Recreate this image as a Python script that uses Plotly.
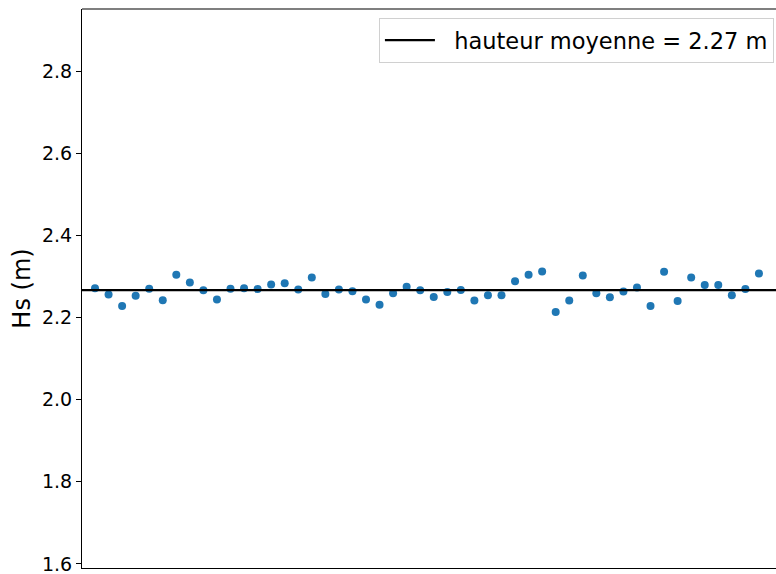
import numpy as np
import plotly.graph_objects as go

# Significant wave height per sample (m)
sample_idx = list(range(50))
hs_values = [
    2.271, 2.256, 2.228, 2.253, 2.270, 2.242, 2.304, 2.285, 2.266, 2.244,
    2.270, 2.271, 2.269, 2.280, 2.283, 2.268, 2.297, 2.257, 2.268, 2.264,
    2.244, 2.231, 2.259, 2.275, 2.266, 2.250, 2.262, 2.267, 2.241, 2.254,
    2.254, 2.288, 2.304, 2.312, 2.213, 2.241, 2.302, 2.259, 2.249, 2.263,
    2.273, 2.228, 2.311, 2.240, 2.297, 2.279, 2.279, 2.254, 2.269, 2.307,
]
y_ticks = [1.6, 1.8, 2.0, 2.2, 2.4, 2.6, 2.8]

mean_hs = float(np.mean(hs_values))
x_range = [-0.96, 50.26]

FONT = "DejaVu Sans"

fig = go.Figure()

fig.add_trace(go.Scatter(
    x=sample_idx, y=hs_values, mode="markers",
    marker=dict(color="#1f77b4", size=8, line=dict(width=0)),
    showlegend=False,
))

fig.add_trace(go.Scatter(
    x=x_range, y=[mean_hs, mean_hs], mode="lines",
    line=dict(color="black", width=2.2),
    name=f"\u00a0\u00a0hauteur moyenne = {mean_hs:.2f} m",
    showlegend=True,
))

# top frame edge
fig.add_shape(type="line", xref="paper", yref="paper", x0=0, x1=1, y0=1, y1=1,
              line=dict(color="black", width=1.2))

fig.update_layout(
    width=776, height=574,
    margin=dict(l=82, r=0, t=9, b=6),
    paper_bgcolor="white", plot_bgcolor="white",
    font=dict(family=FONT, size=19, color="black"),
    legend=dict(
        x=0.997, y=0.984, xanchor="right", yanchor="top",
        bgcolor="rgba(255,255,255,0.8)", bordercolor="#d0d0d0", borderwidth=1,
        font=dict(family=FONT, size=22.5),
        itemwidth=50,
    ),
    xaxis=dict(
        range=x_range, showgrid=False, zeroline=False,
        showticklabels=False, ticks="",
        showline=True, linecolor="black", linewidth=1.2, mirror=False,
    ),
    yaxis=dict(
        range=[1.590, 2.951], showgrid=False, zeroline=False,
        tickvals=y_ticks, ticktext=[f"{v:.1f}" for v in y_ticks],
        ticks="outside", ticklen=5, tickwidth=1.2, tickcolor="black",
        ticklabeloverflow="allow",
        showline=True, linecolor="black", linewidth=1.2,
        tickfont=dict(family=FONT, size=19),
        title=dict(text="Hs (m)", font=dict(family=FONT, size=24), standoff=4),
    ),
)

fig.write_html("out.html")
